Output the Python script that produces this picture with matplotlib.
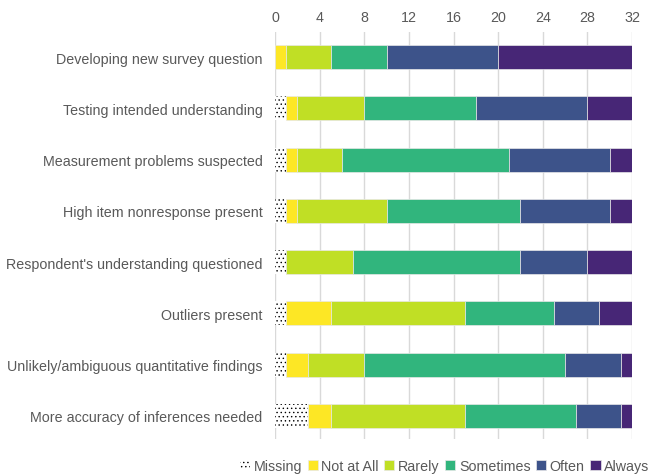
import numpy as np
import matplotlib.pyplot as plt

plt.rcParams['font.family'] = ['Liberation Sans', 'DejaVu Sans']
plt.rcParams['hatch.linewidth'] = 0.5

questions = ['Developing new survey question',
             'Testing intended understanding',
             'Measurement problems suspected',
             'High item nonresponse present',
             "Respondent's understanding questioned",
             'Outliers present',
             'Unlikely/ambiguous quantitative findings',
             'More accuracy of inferences needed']

categories = ['Missing', 'Not at All', 'Rarely', 'Sometimes', 'Often', 'Always']

missing   = [0, 1, 1, 1, 1, 1, 1, 3]
not_at_all = [1, 1, 1, 1, 0, 4, 2, 2]
rarely    = [4, 6, 4, 8, 6, 12, 5, 12]
sometimes = [5, 10, 15, 12, 15, 8, 18, 10]
often     = [10, 10, 9, 8, 6, 4, 5, 4]
always    = [12, 4, 2, 2, 4, 3, 1, 1]

colors = ['white', '#fde725', '#c0df25', '#31b57d', '#3d538a', '#472676']

series = [missing, not_at_all, rarely, sometimes, often, always]

fig = plt.figure(figsize=(6.49, 4.77), dpi=100)
ax = fig.add_axes([275/649, 1-440/477, 357/649, 407/477])

y = np.arange(len(questions))
left = np.zeros(len(questions))
handles = []
for i, (name, vals) in enumerate(zip(categories, series)):
    vals = np.array(vals, dtype=float)
    if name == 'Missing':
        h = ax.barh(y, vals, left=left, height=0.47, color='white',
                    edgecolor='black', hatch='....', linewidth=0, label=name)
    else:
        h = ax.barh(y, vals, left=left, height=0.47, color=colors[i],
                    edgecolor='#e8e8e8', linewidth=0.5, label=name)
    handles.append(h)
    left += vals

ax.set_xlim(0, 32)
ax.set_ylim(7.45, -0.49)
ax.set_xticks(range(0, 33, 4))
ax.set_yticks(y)
ax.set_yticklabels(questions)
ax.xaxis.tick_top()
ax.tick_params(axis='both', length=0, labelsize=10.3, colors='#595959')
ax.tick_params(axis='y', pad=9)
ax.tick_params(axis='x', pad=6)
ax.grid(axis='x', color='#d9d9d9', linewidth=1)
ax.set_axisbelow(True)
for s in ax.spines.values():
    s.set_visible(False)

leg = ax.legend(handles=handles, loc='center', bbox_to_anchor=(0.475, -0.066),
                ncol=6, frameon=False, fontsize=10.3, handlelength=0.7,
                handleheight=0.7, handletextpad=0.25, columnspacing=0.4,
                borderaxespad=0)
for t in leg.get_texts():
    t.set_color('#595959')

plt.savefig('out.png')
